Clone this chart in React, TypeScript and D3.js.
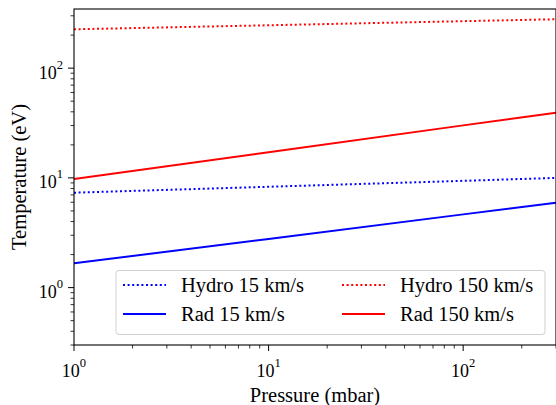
import * as d3 from "d3";

// pressure (mbar) and temperature (eV)
const pressure = [1, 10, 100, 300];
const hydro15 = [7.33, 8.3, 9.4, 10.0];
const hydro150 = [226, 246, 268, 279];
const rad15 = [1.665, 2.78, 4.65, 5.94];
const rad150 = [9.77, 17.1, 30.1, 39.3];

const xMajor = [1, 10, 100];
const yMajor = [1, 10, 100];

const series = [
    {name: "Hydro 15 km/s", values: hydro15, color: "#0000ff", dotted: true},
    {name: "Rad 15 km/s", values: rad15, color: "#0000ff", dotted: false},
    {name: "Hydro 150 km/s", values: hydro150, color: "#ff0000", dotted: true},
    {name: "Rad 150 km/s", values: rad150, color: "#ff0000", dotted: false},
];

const W = 556;
const H = 405;
const margin = {top: 9, right: 0, bottom: 60, left: 74};
const font = "Liberation Serif, Times New Roman, Times, Nimbus Roman, DejaVu Serif, serif";

function minorTicks(lo: number, hi: number) {
    const out: number[] = [];
    for (let e = Math.floor(Math.log10(lo)); e <= Math.ceil(Math.log10(hi)); e++) {
        for (let k = 2; k <= 9; k++) {
            const v = k * Math.pow(10, e);
            if (v >= lo && v <= hi) out.push(v);
        }
    }
    return out;
}

function Pow10({x, y, exp, anchor}: {x: number, y: number, exp: number, anchor: string}) {
    return (
        <text x={x} y={y} textAnchor={anchor} style={{fontFamily: font}} fontSize={18} fill="#000">
            10<tspan fontSize={12.6} dy={-10}>{exp}</tspan>
        </text>
    );
}

export default function App() {
    const x = d3.scaleLog().domain([1, 300]).range([margin.left, W - margin.right]);
    const y = d3.scaleLog().domain([0.3, 346]).range([H - margin.bottom, margin.top]);
    const bottom = H - margin.bottom;
    const right = W - margin.right;

    const line = d3.line<number>()
        .x((_, i) => x(pressure[i]))
        .y(d => y(d));

    const legendItems = [
        {s: series[0], col: 0, row: 0},
        {s: series[1], col: 0, row: 1},
        {s: series[2], col: 1, row: 0},
        {s: series[3], col: 1, row: 1},
    ];
    const colX = [123, 342];
    const rowY = [285, 314];

    return (
        <svg width={W} height={H} style={{position: "absolute", left: 0, top: 0, display: "block", fontFamily: font}}>
            <rect width={W} height={H} fill="#fff"/>
            <clipPath id="plot">
                <rect x={margin.left} y={margin.top} width={right - margin.left} height={bottom - margin.top}/>
            </clipPath>
            <g clipPath="url(#plot)">
                {series.map(s => (
                    <path key={s.name} d={line(s.values) ?? ""} fill="none" stroke={s.color}
                          strokeWidth={2} strokeDasharray={s.dotted ? "2,2.6" : undefined}/>
                ))}
            </g>

            {/* spines */}
            <rect x={margin.left} y={margin.top} width={right - margin.left} height={bottom - margin.top}
                  fill="none" stroke="#000" strokeWidth={1.1}/>

            {/* x ticks */}
            {xMajor.map(v => (
                <g key={"xM" + v}>
                    <line x1={x(v)} x2={x(v)} y1={bottom} y2={bottom + 6} stroke="#000" strokeWidth={1}/>
                    <Pow10 x={x(v)} y={bottom + 32} exp={Math.round(Math.log10(v))} anchor="middle"/>
                </g>
            ))}
            {minorTicks(1, 300).map(v => (
                <line key={"xm" + v} x1={x(v)} x2={x(v)} y1={bottom} y2={bottom + 3.5} stroke="#000" strokeWidth={0.8}/>
            ))}

            {/* y ticks */}
            {yMajor.map(v => (
                <g key={"yM" + v}>
                    <line x1={margin.left} x2={margin.left - 6} y1={y(v)} y2={y(v)} stroke="#000" strokeWidth={1}/>
                    <Pow10 x={margin.left - 11} y={y(v) + 10.5} exp={Math.round(Math.log10(v))} anchor="end"/>
                </g>
            ))}
            {minorTicks(0.3, 346).map(v => (
                <line key={"ym" + v} x1={margin.left} x2={margin.left - 3.5} y1={y(v)} y2={y(v)} stroke="#000" strokeWidth={0.8}/>
            ))}

            {/* axis labels */}
            <text x={(margin.left + right) / 2} y={402} textAnchor="middle" style={{fontFamily: font}} fontSize={20.5}>
                Pressure (mbar)
            </text>
            <text transform={`translate(26,${(margin.top + bottom) / 2}) rotate(-90)`} textAnchor="middle"
                  style={{fontFamily: font}} fontSize={20.5}>
                Temperature (eV)
            </text>

            {/* legend */}
            <rect x={116} y={270.5} width={429} height={64} rx={3} fill="#fff" fillOpacity={0.8}
                  stroke="#d0d0d0" strokeWidth={1}/>
            {legendItems.map(({s, col, row}) => (
                <g key={"lg" + s.name}>
                    <line x1={colX[col]} x2={colX[col] + 43} y1={rowY[row]} y2={rowY[row]} stroke={s.color}
                          strokeWidth={2} strokeDasharray={s.dotted ? "2,2.6" : undefined}/>
                    <text x={colX[col] + 58} y={rowY[row] + 7} style={{fontFamily: font}} fontSize={20.5}>{s.name}</text>
                </g>
            ))}
        </svg>
    );
}
